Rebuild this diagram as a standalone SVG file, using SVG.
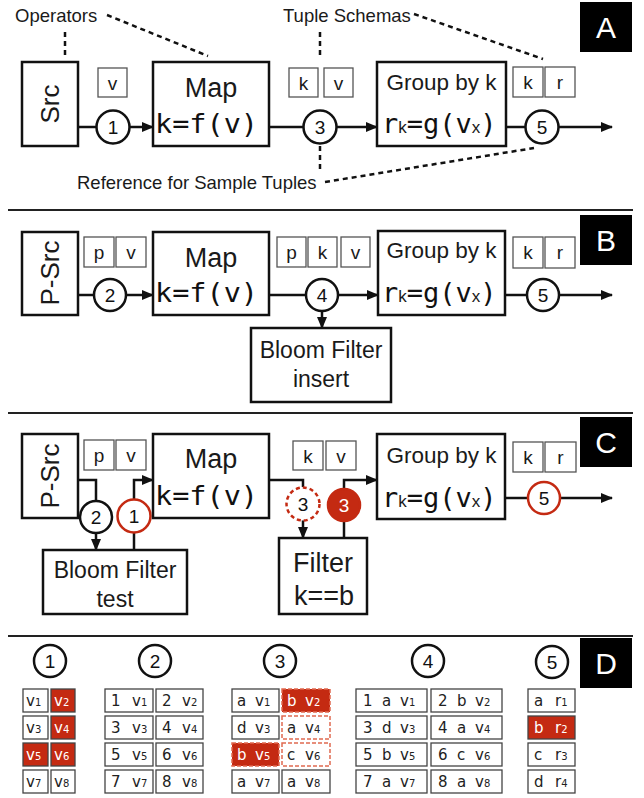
<svg xmlns="http://www.w3.org/2000/svg" width="644" height="798" viewBox="0 0 644 798">
<style>
.bg{fill:#fff}
.box{fill:#fff;stroke:#111;stroke-width:2.5}
.tb{fill:#fff;stroke:#555;stroke-width:1.3}
.ln{fill:none;stroke:#111;stroke-width:2.5}
.dash{fill:none;stroke:#111;stroke-width:2.5;stroke-dasharray:5 4}
.sep{stroke:#222;stroke-width:2}
.circ{fill:#fff;stroke:#111;stroke-width:2.5}
.rcirc{fill:#fff;stroke:#c42a12;stroke-width:2.5}
.rdcirc{fill:#fff;stroke:#c42a12;stroke-width:2.5;stroke-dasharray:4 3}
.rfcirc{fill:#c42a12;stroke:#c42a12;stroke-width:2.5}
.t{font-family:"Liberation Sans",Arial,sans-serif;fill:#1a1a1a}
.m{font-family:"DejaVu Sans Mono",monospace;fill:#111}
.c{text-anchor:middle}
.lab{fill:#000}
.labt{font-family:"Liberation Sans",Arial,sans-serif;fill:#fff;font-size:30px;text-anchor:middle}
.num{font-family:"Liberation Sans",Arial,sans-serif;font-size:19px;text-anchor:middle;fill:#111}
.cell{fill:#fff;stroke:#444;stroke-width:1.3}
.rcell{fill:#c42a12;stroke:#444;stroke-width:1.3}
.rdcell{fill:#c42a12;stroke:#e06a50;stroke-width:1.5;stroke-dasharray:4 2}
.dcell{fill:#fff;stroke:#e06a50;stroke-width:1.5;stroke-dasharray:4 2}
.d{font-family:"DejaVu Sans",Verdana,sans-serif;font-size:15px;fill:#222}
.dw{font-family:"DejaVu Sans",Verdana,sans-serif;font-size:15px;fill:#fff}
.s{font-size:10px}
</style>
<defs>
<marker id="ar" markerUnits="userSpaceOnUse" markerWidth="12" markerHeight="12" viewBox="0 0 12 12" refX="11" refY="6" orient="auto">
<path d="M0,1 L12,6 L0,11 Z" fill="#111"/>
</marker>
</defs>
<rect class="bg" x="0" y="0" width="644" height="798"/>

<!-- separators -->
<g id="separators">
<line class="sep" x1="8" y1="210" x2="633" y2="210"/>
<line class="sep" x1="8" y1="413" x2="633" y2="413"/>
<line class="sep" x1="8" y1="636" x2="633" y2="636" stroke="#777"/>
</g>

<!-- panel labels -->
<g id="label-A"><rect class="lab" x="580" y="2" width="52" height="50"/><text class="labt" x="606" y="38">A</text></g>
<g id="label-B"><rect class="lab" x="580" y="215" width="52" height="50"/><text class="labt" x="606" y="251">B</text></g>
<g id="label-C"><rect class="lab" x="580" y="417" width="52" height="50"/><text class="labt" x="606" y="453">C</text></g>
<g id="label-D"><rect class="lab" x="580" y="638" width="52" height="50"/><text class="labt" x="606" y="674">D</text></g>

<!-- connectors -->
<g id="connectors">
<!-- A -->
<line class="ln" x1="78" y1="127" x2="97" y2="127"/>
<line class="ln" x1="130" y1="127" x2="153" y2="127" marker-end="url(#ar)"/>
<line class="ln" x1="269" y1="127" x2="303" y2="127"/>
<line class="ln" x1="337" y1="127" x2="377" y2="127" marker-end="url(#ar)"/>
<line class="ln" x1="506" y1="127" x2="525" y2="127"/>
<line class="ln" x1="559" y1="127" x2="612" y2="127" marker-end="url(#ar)"/>
<!-- A annotations -->
<line class="dash" x1="65" y1="32" x2="65" y2="57"/>
<line class="dash" x1="107" y1="15" x2="208" y2="56"/>
<line class="dash" x1="320" y1="32" x2="320" y2="57"/>
<line class="dash" x1="414" y1="14" x2="543" y2="59"/>
<line class="dash" x1="320" y1="146" x2="320" y2="172"/>
<line class="dash" x1="325" y1="182" x2="534" y2="148"/>
<!-- B -->
<line class="ln" x1="78" y1="295" x2="94" y2="295"/>
<line class="ln" x1="126" y1="295" x2="153" y2="295" marker-end="url(#ar)"/>
<line class="ln" x1="269" y1="295" x2="306" y2="295"/>
<line class="ln" x1="338" y1="295" x2="378" y2="295" marker-end="url(#ar)"/>
<line class="ln" x1="322" y1="311" x2="322" y2="328" marker-end="url(#ar)"/>
<line class="ln" x1="505" y1="295" x2="527" y2="295"/>
<line class="ln" x1="559" y1="295" x2="612" y2="295" marker-end="url(#ar)"/>
<!-- C -->
<polyline class="ln" points="78,480 96,480 96,501"/>
<line class="ln" x1="96" y1="533" x2="96" y2="550" marker-end="url(#ar)"/>
<line class="ln" x1="134" y1="550" x2="134" y2="533"/>
<polyline class="ln" points="134,499 134,480 153,480" marker-end="url(#ar)"/>
<polyline class="ln" points="269,480 303,480 303,487"/>
<line class="ln" x1="303" y1="520" x2="303" y2="538" marker-end="url(#ar)"/>
<line class="ln" x1="344" y1="538" x2="344" y2="521"/>
<polyline class="ln" points="344,488 344,480 377,480" marker-end="url(#ar)"/>
<line class="ln" x1="505" y1="498" x2="528" y2="498"/>
<line class="ln" x1="560" y1="498" x2="612" y2="498" marker-end="url(#ar)"/>
</g>

<!-- Panel A -->
<g id="A-annotations">
<text class="t" x="15" y="22" font-size="18.5">Operators</text>
<text class="t" x="283" y="22" font-size="18.5">Tuple Schemas</text>
<text class="t" x="77" y="189" font-size="18.5">Reference for Sample Tuples</text>
</g>
<g id="A-src">
<rect class="box" x="22" y="62" width="56" height="84"/>
<text class="t c" font-size="26" transform="translate(59,104) rotate(-90)">Src</text>
</g>
<g id="A-schema1">
<rect class="tb" x="98" y="68" width="29" height="29"/><text class="t c" x="112.5" y="90" font-size="19">v</text>
</g>
<g id="A-c1"><circle class="circ" cx="113" cy="127" r="16.5"/><text class="num" x="113" y="133.5">1</text></g>
<g id="A-map">
<rect class="box" x="153" y="62" width="116" height="84"/>
<text class="t c" x="211" y="97" font-size="27">Map</text>
<text class="m" x="155" y="133" font-size="26" textLength="103" lengthAdjust="spacingAndGlyphs">k=f(v)</text>
</g>
<g id="A-schema3">
<rect class="tb" x="289" y="68" width="29" height="29"/><text class="t c" x="303.5" y="90" font-size="19">k</text>
<rect class="tb" x="324" y="68" width="29" height="29"/><text class="t c" x="338.5" y="90" font-size="19">v</text>
</g>
<g id="A-c3"><circle class="circ" cx="320" cy="127" r="16.5"/><text class="num" x="320" y="133.5">3</text></g>
<g id="A-group">
<rect class="box" x="377" y="62" width="129" height="84"/>
<text class="t c" x="441.5" y="90" font-size="22.5">Group by k</text>
<text class="m" x="382" y="133" font-size="27">r<tspan class="t" font-size="17">k</tspan>=g(v<tspan class="t" font-size="17">x</tspan>)</text>
</g>
<g id="A-schema5">
<rect class="tb" x="513" y="67" width="30" height="30"/><text class="t c" x="528" y="89" font-size="19">k</text>
<rect class="tb" x="545" y="67" width="30" height="30"/><text class="t c" x="560" y="89" font-size="19">r</text>
</g>
<g id="A-c5"><circle class="circ" cx="542" cy="127" r="16.5"/><text class="num" x="542" y="133.5">5</text></g>

<!-- Panel B -->
<g id="B-psrc">
<rect class="box" x="22" y="232" width="56" height="83"/>
<text class="t c" font-size="26" transform="translate(59,273) rotate(-90)">P-Src</text>
</g>
<g id="B-schema2">
<rect class="tb" x="84" y="237" width="30" height="30"/><text class="t c" x="99" y="259" font-size="19">p</text>
<rect class="tb" x="116" y="237" width="30" height="30"/><text class="t c" x="131" y="259" font-size="19">v</text>
</g>
<g id="B-c2"><circle class="circ" cx="110" cy="295" r="16"/><text class="num" x="110" y="301.5">2</text></g>
<g id="B-map">
<rect class="box" x="153" y="232" width="116" height="83"/>
<text class="t c" x="211" y="267" font-size="27">Map</text>
<text class="m" x="155" y="302" font-size="26" textLength="103" lengthAdjust="spacingAndGlyphs">k=f(v)</text>
</g>
<g id="B-schema4">
<rect class="tb" x="277" y="237" width="29" height="30"/><text class="t c" x="291.5" y="259" font-size="19">p</text>
<rect class="tb" x="308" y="237" width="29" height="30"/><text class="t c" x="322.5" y="259" font-size="19">k</text>
<rect class="tb" x="341" y="237" width="29" height="30"/><text class="t c" x="355.5" y="259" font-size="19">v</text>
</g>
<g id="B-c4"><circle class="circ" cx="322" cy="295" r="16"/><text class="num" x="322" y="301.5">4</text></g>
<g id="B-bloom">
<rect class="box" x="251" y="328" width="140" height="74"/>
<text class="t c" x="321" y="358" font-size="23">Bloom Filter</text>
<text class="t c" x="321" y="387" font-size="23">insert</text>
</g>
<g id="B-group">
<rect class="box" x="378" y="231" width="127" height="84"/>
<text class="t c" x="441.5" y="258" font-size="22.5">Group by k</text>
<text class="m" x="382" y="302" font-size="27">r<tspan class="t" font-size="17">k</tspan>=g(v<tspan class="t" font-size="17">x</tspan>)</text>
</g>
<g id="B-schema5">
<rect class="tb" x="513" y="237" width="30" height="31"/><text class="t c" x="528" y="259" font-size="19">k</text>
<rect class="tb" x="545" y="237" width="30" height="31"/><text class="t c" x="560" y="259" font-size="19">r</text>
</g>
<g id="B-c5"><circle class="circ" cx="543" cy="295" r="16"/><text class="num" x="543" y="301.5">5</text></g>

<!-- Panel C -->
<g id="C-psrc">
<rect class="box" x="22" y="434" width="56" height="84"/>
<text class="t c" font-size="26" transform="translate(59,476) rotate(-90)">P-Src</text>
</g>
<g id="C-schema">
<rect class="tb" x="84" y="440" width="30" height="30"/><text class="t c" x="99" y="462" font-size="19">p</text>
<rect class="tb" x="116" y="440" width="30" height="30"/><text class="t c" x="131" y="462" font-size="19">v</text>
</g>
<g id="C-c2"><circle class="circ" cx="96" cy="517" r="16"/><text class="num" x="96" y="523.5">2</text></g>
<g id="C-c1"><circle class="rcirc" cx="134" cy="516" r="16.5"/><text class="num" x="134" y="522.5">1</text></g>
<g id="C-bloom">
<rect class="box" x="43" y="550" width="144" height="64"/>
<text class="t c" x="115" y="578" font-size="23">Bloom Filter</text>
<text class="t c" x="115" y="607" font-size="23">test</text>
</g>
<g id="C-map">
<rect class="box" x="153" y="434" width="116" height="84"/>
<text class="t c" x="211" y="468" font-size="27">Map</text>
<text class="m" x="155" y="505" font-size="26" textLength="103" lengthAdjust="spacingAndGlyphs">k=f(v)</text>
</g>
<g id="C-schema3">
<rect class="tb" x="293" y="441" width="30" height="29"/><text class="t c" x="308" y="463" font-size="19">k</text>
<rect class="tb" x="326" y="441" width="30" height="29"/><text class="t c" x="341" y="463" font-size="19">v</text>
</g>
<g id="C-c3a"><circle class="rdcirc" cx="303" cy="504" r="16.5"/><text class="num" x="303" y="510.5">3</text></g>
<g id="C-c3b"><circle class="rfcirc" cx="344" cy="505" r="16"/><text class="num" x="344" y="511.5" style="fill:#fff">3</text></g>
<g id="C-filter">
<rect class="box" x="279" y="538" width="88" height="76"/>
<text class="t c" x="323" y="572" font-size="27">Filter</text>
<text class="t c" x="324" y="605" font-size="27">k==b</text>
</g>
<g id="C-group">
<rect class="box" x="377" y="434" width="128" height="85"/>
<text class="t c" x="441.5" y="463" font-size="22.5">Group by k</text>
<text class="m" x="382" y="507" font-size="27">r<tspan class="t" font-size="17">k</tspan>=g(v<tspan class="t" font-size="17">x</tspan>)</text>
</g>
<g id="C-schema5">
<rect class="tb" x="513" y="442" width="30" height="30"/><text class="t c" x="528" y="464" font-size="19">k</text>
<rect class="tb" x="545" y="442" width="31" height="30"/><text class="t c" x="560.5" y="464" font-size="19">r</text>
</g>
<g id="C-c5"><circle class="rcirc" cx="544" cy="498" r="16"/><text class="num" x="544" y="504.5">5</text></g>

<!-- Panel D -->
<g id="D1">
<circle class="circ" cx="50" cy="661" r="16" stroke-width="2"/><text class="num" x="50" y="668" font-size="21">1</text>
<rect class="cell" x="23" y="689" width="25" height="23"/><text class="d" x="26" y="706">v<tspan class="s">1</tspan></text>
<rect class="rcell" x="51" y="689" width="24" height="23"/><text class="dw" x="54" y="706">v<tspan class="s">2</tspan></text>
<rect class="cell" x="23" y="716" width="25" height="23"/><text class="d" x="26" y="733">v<tspan class="s">3</tspan></text>
<rect class="rcell" x="51" y="716" width="24" height="23"/><text class="dw" x="54" y="733">v<tspan class="s">4</tspan></text>
<rect class="rcell" x="23" y="743" width="25" height="23"/><text class="dw" x="26" y="760">v<tspan class="s">5</tspan></text>
<rect class="rcell" x="51" y="743" width="24" height="23"/><text class="dw" x="54" y="760">v<tspan class="s">6</tspan></text>
<rect class="cell" x="23" y="770" width="25" height="23"/><text class="d" x="26" y="787">v<tspan class="s">7</tspan></text>
<rect class="cell" x="51" y="770" width="24" height="23"/><text class="d" x="54" y="787">v<tspan class="s">8</tspan></text>
</g>
<g id="D2">
<circle class="circ" cx="155" cy="661" r="16" stroke-width="2"/><text class="num" x="155" y="668" font-size="21">2</text>
<rect class="cell" x="105" y="689" width="48" height="23"/><text class="d" x="111" y="706">1<tspan x="132">v</tspan><tspan class="s">1</tspan></text>
<rect class="cell" x="156" y="689" width="47" height="23"/><text class="d" x="162" y="706">2<tspan x="182">v</tspan><tspan class="s">2</tspan></text>
<rect class="cell" x="105" y="716" width="48" height="23"/><text class="d" x="111" y="733">3<tspan x="132">v</tspan><tspan class="s">3</tspan></text>
<rect class="cell" x="156" y="716" width="47" height="23"/><text class="d" x="162" y="733">4<tspan x="182">v</tspan><tspan class="s">4</tspan></text>
<rect class="cell" x="105" y="743" width="48" height="23"/><text class="d" x="111" y="760">5<tspan x="132">v</tspan><tspan class="s">5</tspan></text>
<rect class="cell" x="156" y="743" width="47" height="23"/><text class="d" x="162" y="760">6<tspan x="182">v</tspan><tspan class="s">6</tspan></text>
<rect class="cell" x="105" y="770" width="48" height="23"/><text class="d" x="111" y="787">7<tspan x="132">v</tspan><tspan class="s">7</tspan></text>
<rect class="cell" x="156" y="770" width="47" height="23"/><text class="d" x="162" y="787">8<tspan x="182">v</tspan><tspan class="s">8</tspan></text>
</g>
<g id="D3">
<circle class="circ" cx="280" cy="661" r="16" stroke-width="2"/><text class="num" x="280" y="668" font-size="21">3</text>
<rect class="cell" x="232" y="689" width="47" height="23"/><text class="d" x="237" y="706">a<tspan x="255">v</tspan><tspan class="s">1</tspan></text>
<rect class="rdcell" x="282" y="689" width="48" height="23"/><text class="dw" x="287" y="706">b<tspan x="305">v</tspan><tspan class="s">2</tspan></text>
<rect class="cell" x="232" y="716" width="47" height="23"/><text class="d" x="237" y="733">d<tspan x="255">v</tspan><tspan class="s">3</tspan></text>
<rect class="dcell" x="282" y="716" width="48" height="23"/><text class="d" x="287" y="733">a<tspan x="305">v</tspan><tspan class="s">4</tspan></text>
<rect class="rdcell" x="232" y="743" width="47" height="23"/><text class="dw" x="237" y="760">b<tspan x="255">v</tspan><tspan class="s">5</tspan></text>
<rect class="dcell" x="282" y="743" width="48" height="23"/><text class="d" x="287" y="760">c<tspan x="305">v</tspan><tspan class="s">6</tspan></text>
<rect class="cell" x="232" y="770" width="47" height="23"/><text class="d" x="237" y="787">a<tspan x="255">v</tspan><tspan class="s">7</tspan></text>
<rect class="cell" x="282" y="770" width="48" height="23"/><text class="d" x="287" y="787">a<tspan x="305">v</tspan><tspan class="s">8</tspan></text>
</g>
<g id="D4">
<circle class="circ" cx="428" cy="661" r="16" stroke-width="2"/><text class="num" x="428" y="668" font-size="21">4</text>
<rect class="cell" x="356" y="689" width="71" height="23"/><text class="d" x="363" y="706">1<tspan x="382">a</tspan><tspan x="400">v</tspan><tspan class="s">1</tspan></text>
<rect class="cell" x="431" y="689" width="71" height="23"/><text class="d" x="438" y="706">2<tspan x="457">b</tspan><tspan x="475">v</tspan><tspan class="s">2</tspan></text>
<rect class="cell" x="356" y="716" width="71" height="23"/><text class="d" x="363" y="733">3<tspan x="382">d</tspan><tspan x="400">v</tspan><tspan class="s">3</tspan></text>
<rect class="cell" x="431" y="716" width="71" height="23"/><text class="d" x="438" y="733">4<tspan x="457">a</tspan><tspan x="475">v</tspan><tspan class="s">4</tspan></text>
<rect class="cell" x="356" y="743" width="71" height="23"/><text class="d" x="363" y="760">5<tspan x="382">b</tspan><tspan x="400">v</tspan><tspan class="s">5</tspan></text>
<rect class="cell" x="431" y="743" width="71" height="23"/><text class="d" x="438" y="760">6<tspan x="457">c</tspan><tspan x="475">v</tspan><tspan class="s">6</tspan></text>
<rect class="cell" x="356" y="770" width="71" height="23"/><text class="d" x="363" y="787">7<tspan x="382">a</tspan><tspan x="400">v</tspan><tspan class="s">7</tspan></text>
<rect class="cell" x="431" y="770" width="71" height="23"/><text class="d" x="438" y="787">8<tspan x="457">a</tspan><tspan x="475">v</tspan><tspan class="s">8</tspan></text>
</g>
<g id="D5">
<circle class="circ" cx="552" cy="662" r="16" stroke-width="2"/><text class="num" x="552" y="669" font-size="21">5</text>
<rect class="cell" x="528" y="689" width="47" height="23"/><text class="d" x="534" y="706">a<tspan x="555">r</tspan><tspan class="s">1</tspan></text>
<rect class="rcell" x="528" y="716" width="47" height="23"/><text class="dw" x="534" y="733">b<tspan x="555">r</tspan><tspan class="s">2</tspan></text>
<rect class="cell" x="528" y="743" width="47" height="23"/><text class="d" x="534" y="760">c<tspan x="555">r</tspan><tspan class="s">3</tspan></text>
<rect class="cell" x="528" y="770" width="47" height="23"/><text class="d" x="534" y="787">d<tspan x="555">r</tspan><tspan class="s">4</tspan></text>
</g>
</svg>
